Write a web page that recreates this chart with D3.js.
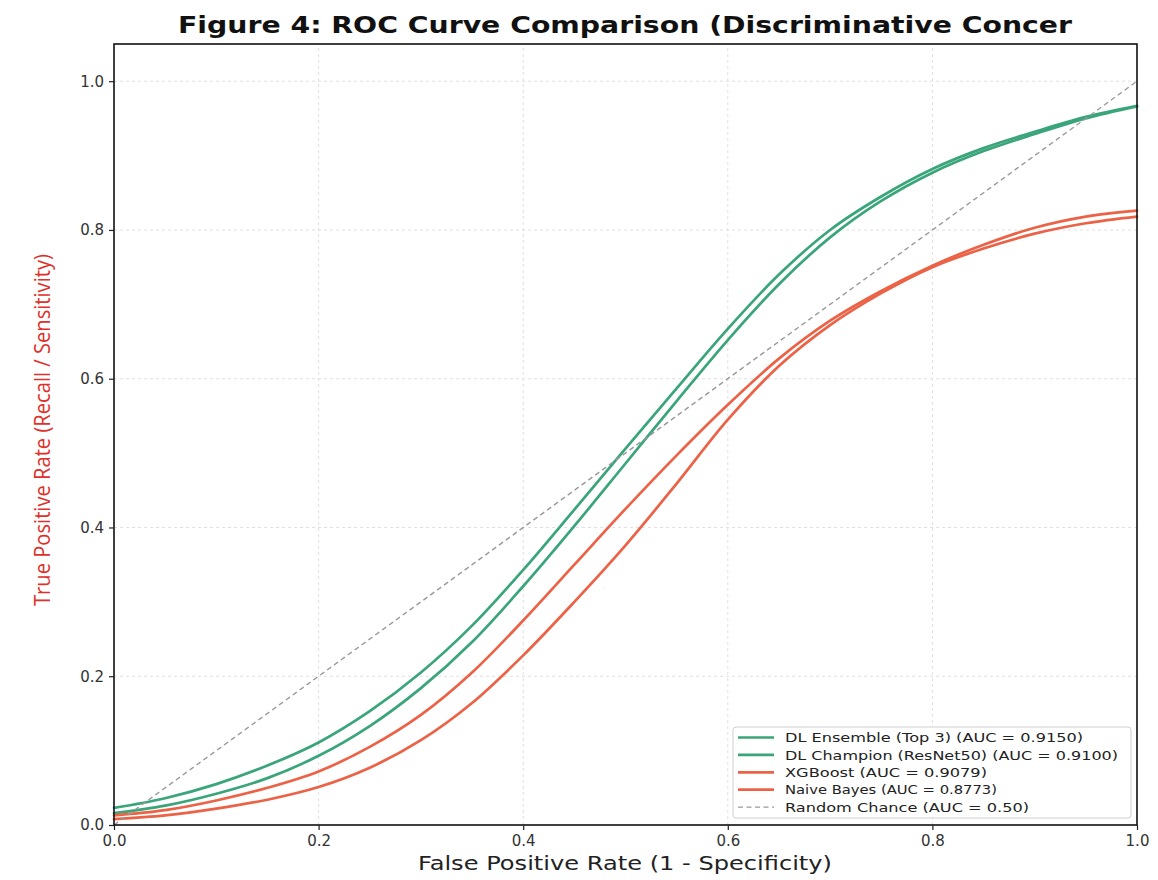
<!DOCTYPE html>
<html><head><meta charset="utf-8">
<script src="https://cdn.jsdelivr.net/npm/d3@7"></script>
<style>body{margin:0;background:#fff} svg{display:block}</style>
</head><body><svg id="c" width="1158" height="880"></svg>
<script>
// ---- data ----
const fpr        = [0, 0.05, 0.1, 0.15, 0.2, 0.25, 0.3, 0.35, 0.4, 0.45, 0.5, 0.55, 0.6, 0.65, 0.7, 0.75, 0.8, 0.85, 0.9, 0.95, 1.0];
const dlEnsemble = [0.023, 0.036, 0.055, 0.080, 0.111, 0.153, 0.205, 0.268, 0.343, 0.424, 0.506, 0.587, 0.667, 0.740, 0.800, 0.845, 0.882, 0.910, 0.932, 0.952, 0.967];
const dlChampion = [0.016, 0.026, 0.042, 0.063, 0.093, 0.133, 0.184, 0.246, 0.321, 0.402, 0.486, 0.570, 0.652, 0.727, 0.790, 0.839, 0.877, 0.906, 0.929, 0.950, 0.966];
const xgboost    = [0.013, 0.020, 0.033, 0.050, 0.072, 0.105, 0.148, 0.205, 0.275, 0.350, 0.425, 0.497, 0.565, 0.627, 0.678, 0.718, 0.752, 0.780, 0.803, 0.818, 0.826];
const naiveBayes = [0.008, 0.013, 0.022, 0.034, 0.051, 0.077, 0.114, 0.164, 0.228, 0.300, 0.376, 0.459, 0.545, 0.617, 0.672, 0.715, 0.750, 0.775, 0.795, 0.809, 0.818];
const randomLine = [[0, 0], [1, 1]];
const seriesLabels = [
  "DL Ensemble (Top 3) (AUC = 0.9150)",
  "DL Champion (ResNet50) (AUC = 0.9100)",
  "XGBoost (AUC = 0.9079)",
  "Naive Bayes (AUC = 0.8773)",
  "Random Chance (AUC = 0.50)"
];
const xTicks = [0, 0.2, 0.4, 0.6, 0.8, 1.0];
const yTicks = [0, 0.2, 0.4, 0.6, 0.8, 1.0];
const titleText = "Figure 4: ROC Curve Comparison (Discriminative Concer";
const xLabel = "False Positive Rate (1 - Specificity)";
const yLabel = "True Positive Rate (Recall / Sensitivity)";

// ---- styles ----
const GREEN = "#3aa57a", RED = "#ec6246", GRAY = "#9a9a9a";
const seriesValues = [dlEnsemble, dlChampion, xgboost, naiveBayes];
const seriesColors = [GREEN, GREEN, RED, RED];

const svg = d3.select("#c");
const W = 1158, H = 880;
svg.append("rect").attr("width", W).attr("height", H).attr("fill", "#fff");

const x = d3.scaleLinear().domain([0, 1]).range([114, 1137]);
const y = d3.scaleLinear().domain([0, 1.05]).range([825, 44]);

function fit(sel, w) {
  sel.attr("textLength", w).attr("lengthAdjust", "spacingAndGlyphs");
}

// grid
const g = svg.append("g");
g.selectAll(".gx").data(xTicks.slice(1, -1)).join("line")
  .attr("x1", d => x(d)).attr("x2", d => x(d)).attr("y1", y(0)).attr("y2", y(1.05))
  .attr("stroke", "#dcdcdc").attr("stroke-width", 0.9).attr("stroke-dasharray", "3,3");
g.selectAll(".gy").data(yTicks.slice(1)).join("line")
  .attr("x1", x(0)).attr("x2", x(1)).attr("y1", d => y(d)).attr("y2", d => y(d))
  .attr("stroke", "#dcdcdc").attr("stroke-width", 0.9).attr("stroke-dasharray", "3,3");

// curves
const line = d3.line().x(d => x(d[0])).y(d => y(d[1])).curve(d3.curveCatmullRom.alpha(0.5));
seriesValues.forEach((vals, i) => {
  svg.append("path").datum(fpr.map((f, k) => [f, vals[k]]))
    .attr("d", line).attr("fill", "none").attr("stroke", seriesColors[i])
    .attr("stroke-width", 2.7).attr("stroke-linecap", "round");
});
svg.append("path").datum(randomLine)
  .attr("d", d3.line().x(d => x(d[0])).y(d => y(d[1])))
  .attr("fill", "none").attr("stroke", GRAY).attr("stroke-width", 1.4)
  .attr("stroke-dasharray", "5,3.5");

// frame
svg.append("rect").attr("x", x(0)).attr("y", y(1.05)).attr("width", x(1) - x(0)).attr("height", y(0) - y(1.05))
  .attr("fill", "none").attr("stroke", "#111").attr("stroke-width", 1.6);

// axes
const fmt = d3.format(".1f");
const ax = svg.append("g").attr("transform", `translate(0,${y(0)})`)
  .call(d3.axisBottom(x).tickValues(xTicks).tickFormat(fmt).tickSize(5).tickPadding(5));
const ay = svg.append("g").attr("transform", `translate(${x(0)},0)`)
  .call(d3.axisLeft(y).tickValues(yTicks).tickFormat(fmt).tickSize(5).tickPadding(5));
[ax, ay].forEach(a => {
  a.select(".domain").remove();
  a.selectAll("line").attr("stroke", "#222").attr("stroke-width", 1.2);
  a.selectAll("text").attr("font-family", "DejaVu Sans").attr("font-size", 15).attr("fill", "#333");
});

// title
svg.append("text").attr("x", 625).attr("y", 33).attr("text-anchor", "middle")
  .attr("font-family", "DejaVu Sans").attr("font-weight", "bold").attr("font-size", 23).attr("fill", "#111")
  .text(titleText).call(fit, 894);

// x label
svg.append("text").attr("x", 625).attr("y", 870).attr("text-anchor", "middle")
  .attr("font-family", "DejaVu Sans").attr("font-size", 19).attr("fill", "#222")
  .text(xLabel).call(fit, 414);

// y label
svg.append("text").attr("transform", "translate(50,430) rotate(-90)").attr("text-anchor", "middle")
  .attr("font-family", "Open Sans").attr("font-size", 21).attr("fill", "#e0302a")
  .text(yLabel).call(fit, 352);

// legend
const lg = svg.append("g");
lg.append("rect").attr("x", 733).attr("y", 727).attr("width", 398).attr("height", 91).attr("rx", 3)
  .attr("fill", "#fff").attr("fill-opacity", 0.85).attr("stroke", "#cfcfcf").attr("stroke-width", 1);
const legendColors = [GREEN, GREEN, RED, RED, GRAY];
const legendWidths = [298, 333, 202, 212, 244];
seriesLabels.forEach((lab, i) => {
  const cy = 737.5 + i * 17.4;
  lg.append("line").attr("x1", 738).attr("x2", 774).attr("y1", cy).attr("y2", cy)
    .attr("stroke", legendColors[i]).attr("stroke-width", i < 4 ? 2.7 : 1.4)
    .attr("stroke-dasharray", i < 4 ? null : "5,3.5");
  lg.append("text").attr("x", 785).attr("y", cy).attr("dy", "0.36em")
    .attr("font-family", "DejaVu Sans").attr("font-size", 13).attr("fill", "#222")
    .text(lab).call(fit, legendWidths[i]);
});
</script></body></html>
